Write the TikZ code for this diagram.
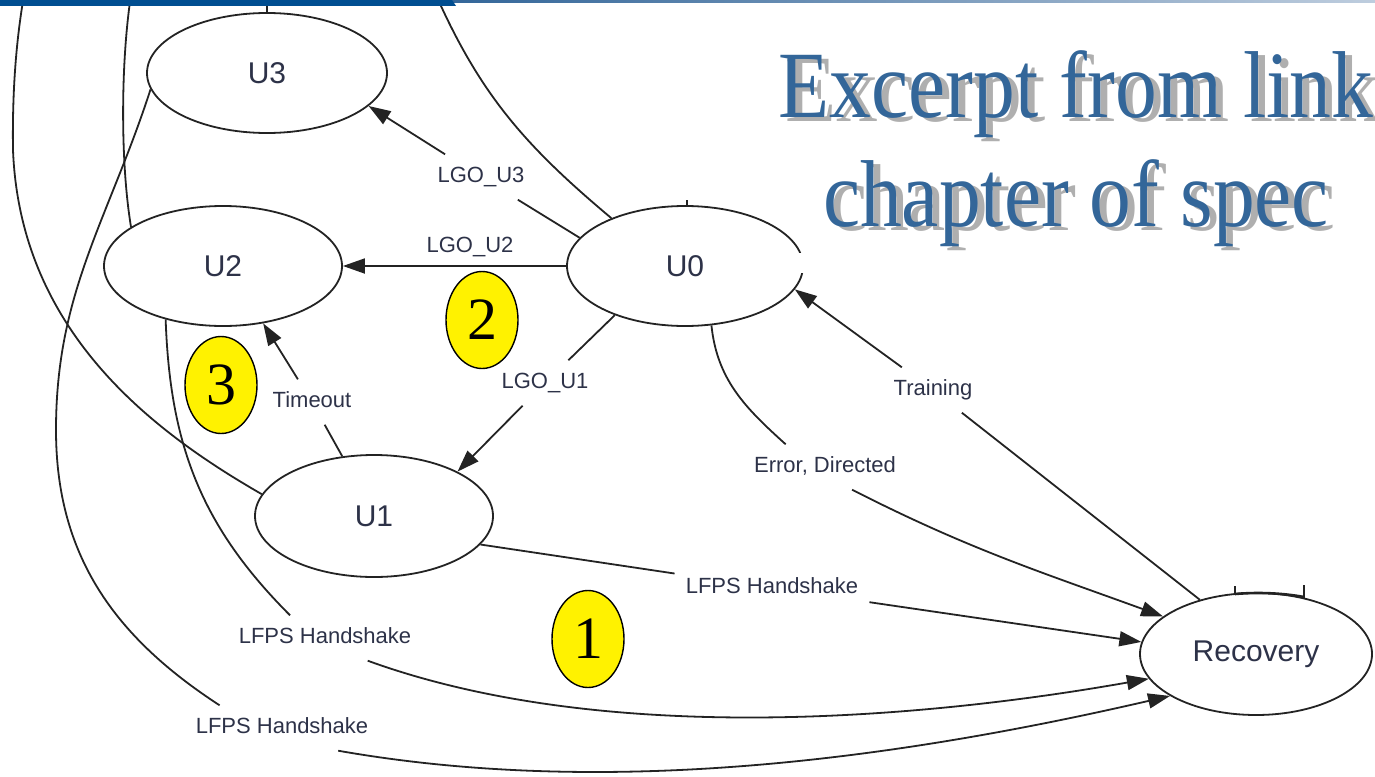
\documentclass[tikz,border=0pt]{standalone}
\usepackage{fontspec}
\setmainfont{Liberation Sans}
\newfontfamily\seriffont{Liberation Serif}
\usetikzlibrary{shapes.geometric,arrows.meta}

\definecolor{inkline}{RGB}{35,35,35}
\definecolor{inktext}{RGB}{45,50,72}
\definecolor{titleblue}{RGB}{51,102,153}
\definecolor{barblue}{RGB}{0,78,145}
\definecolor{barlight}{RGB}{190,205,222}
\definecolor{shadowgray}{RGB}{175,175,175}

\begin{document}
\begin{tikzpicture}[x=1pt,y=1pt,
  state/.style={ellipse, draw=inkline, line width=1.8pt, fill=white, inner sep=0pt,
    text=inktext, font=\fontsize{30}{36}\selectfont},
  lbl/.style={inner xsep=11pt, inner ysep=12pt, text height=16pt, text depth=5pt,
    text=inktext, font=\fontsize{22}{26}\selectfont},
  edge/.style={draw=inkline, line width=1.8pt},
  arr/.style={edge, -{Triangle[length=22pt,width=15pt]}},
  badge/.style={ellipse, draw=black, line width=1.4pt, fill=yellow, inner sep=0pt,
    minimum width=72pt, minimum height=97pt, font=\seriffont\fontsize{60}{60}\selectfont},
  headline/.style={anchor=base, inner sep=0pt, font=\seriffont\fontsize{95}{109}\selectfont},
]
\useasboundingbox (0,0) rectangle (1375,-776);
\clip (0,0) rectangle (1375,-776);

% title with drop shadow
\node[headline, text=shadowgray] (t1s) at (1083,-121) {\scalebox{0.88}[1]{Excerpt from link}};
\node[headline, text=shadowgray] (t2s) at (1083,-230) {\scalebox{0.88}[1]{chapter of spec}};
\node[headline, text=titleblue] (t1) at (1076,-117) {\scalebox{0.88}[1]{Excerpt from link}};
\node[headline, text=titleblue] (t2) at (1076,-226) {\scalebox{0.88}[1]{chapter of spec}};

% states
\node[state, minimum width=240pt, minimum height=120pt] (U3) at (267,-73) {U3};
\node[state, minimum width=238pt, minimum height=120pt] (U2) at (223,-266) {U2};
\node[state, minimum width=236pt, minimum height=120pt] (U0) at (685,-266) {U0};
\node[state, minimum width=238pt, minimum height=122pt] (U1) at (374,-516) {U1};
\node[state, minimum width=232pt, minimum height=122pt] (Rec) at (1256,-654) {Recovery};

% edge labels
\node[lbl] (lU3) at (481,-177) {LGO\_U3};
\node[lbl] (lU2) at (470,-247) {LGO\_U2};
\node[lbl] (lU1) at (545,-383) {LGO\_U1};
\node[lbl] (lTo) at (312,-402) {Timeout};
\node[lbl] (lErr) at (825,-467) {Error, Directed};
\node[lbl] (lTr) at (933,-390) {Training};
\node[lbl] (lH1) at (772,-588) {LFPS Handshake};
\node[lbl] (lH2) at (325,-638) {LFPS Handshake};
\node[lbl] (lH3) at (282,-728) {LFPS Handshake};

% transitions out of U0
\draw[edge] (U0.165) -- (lU3);
\draw[arr] (lU3) -- (U3.-18);
\draw[arr] (U0.180) -- (U2.0);
\draw[edge] (U0.-145) -- (lU1);
\draw[arr] (lU1) -- (U1.28);
\draw[edge] (U0.-66) to[out=-84,in=138] (lErr.150);
\draw[arr] (lErr.-40) to[out=-27,in=160] (Rec.158);

% U1 -> U2
\draw[edge] (U1.118) -- (lTo);
\draw[arr] (lTo) -- (U2.-55);

% Recovery -> U0
\draw[edge] (Rec.136) -- (lTr);
\draw[arr] (lTr) -- (U0.-12);

% LFPS handshakes into Recovery
\draw[edge] (U1.-15) -- (lH1);
\draw[arr] (lH1) -- (Rec.174);
\draw[edge] (U2.-137) to[out=-88,in=135] (lH2.147);
\draw[arr] (lH2.-28) to[out=-20,in=190,looseness=0.8] (Rec.-167);
\coordinate (bend3) at (56,-430);
\draw[edge] (U3.-172) to[out=-108,in=90] (bend3) to[out=-90,in=147] (lH3.160);
\draw[arr] (lH3.-22) to[out=-10,in=193,looseness=0.85] (Rec.-154);

% transitions continuing above the visible part
\coordinate (offA) at (24,5);
\coordinate (offB) at (131,5);
\coordinate (offC) at (267,5);
\coordinate (offD) at (436,5);
\draw[edge] (U1.169) .. controls (150,-430) and (20,-330) .. (13,-150)
  .. controls (12,-80) and (18,-30) .. (offA);
\draw[edge] (U2.157) .. controls (120,-160) and (121,-60) .. (offB);
\draw[edge] (U3.north) -- (offC);
\draw[edge] (U0.147) to[out=140,in=-66] (offD);

% stubs of loops on U0 and Recovery
\draw[edge, line width=1.3pt] (687,-200) -- (687,-206);
\draw[edge, line width=1.3pt] (1235,-586) -- (1235,-594);
\draw[edge, line width=1.3pt] (1304,-585) -- (1304,-598);
\draw[edge, line width=2.6pt] (1235,-594) .. controls (1258,-592) and (1282,-593) .. (1304,-597);
\fill[white] (798,-253) rectangle (810,-273);

% numbered markers
\node[badge] (b1) at (588,-639) {1};
\node[badge] (b2) at (482,-320) {2};
\node[badge] (b3) at (221,-385) {3};

% header rule
\shade[left color=titleblue, right color=barlight] (450,0) rectangle (1375,-3);
\fill[barblue] (0,0) -- (452,0) -- (456,-6) -- (0,-6) -- cycle;
\end{tikzpicture}
\end{document}
